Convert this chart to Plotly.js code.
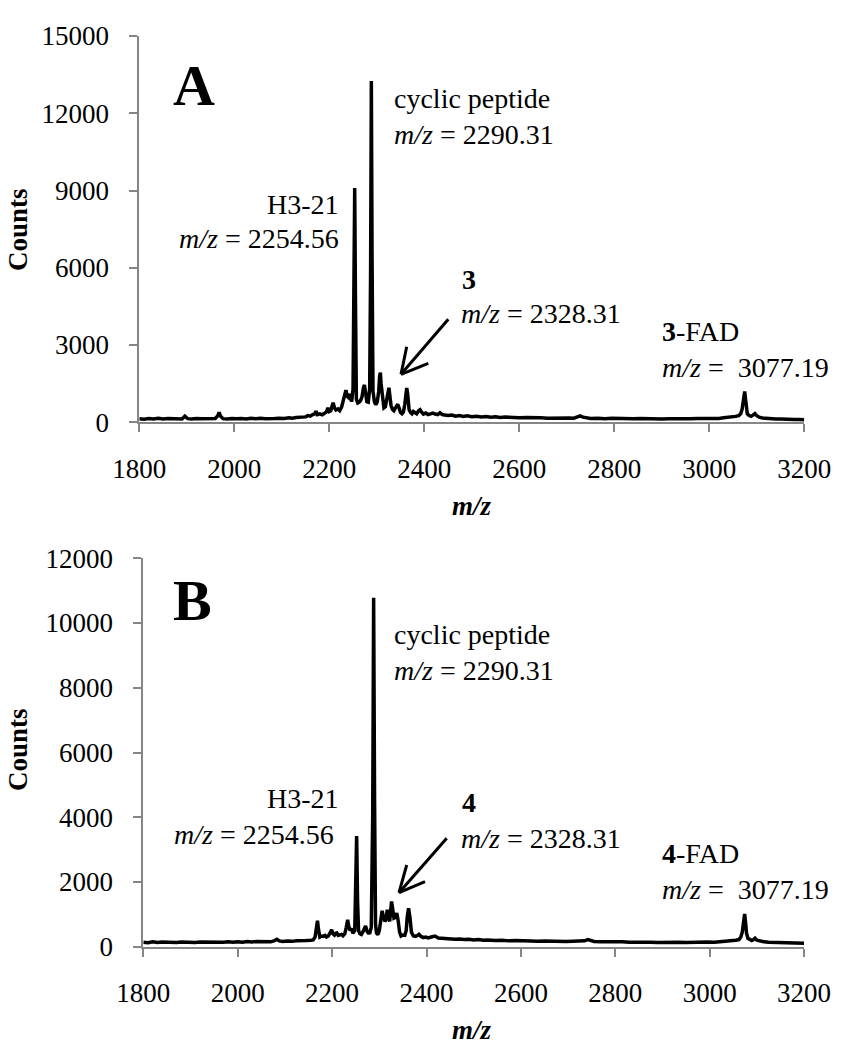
<!DOCTYPE html>
<html>
<head>
<meta charset="utf-8">
<script src="https://cdn.plot.ly/plotly-3.0.1.min.js"></script>
<style>html,body{margin:0;padding:0;background:#fff;}#chart{width:859px;height:1050px;}</style>
</head>
<body>
<div id="chart"></div>
<script>
// ---- Panel A spectrum ----
const mzA = [
1800,1810,1820,1830,1840,1850,1860,1870,1880,1890,
1896,1902,1910,1920,1930,1940,1950,1960,1965,1968,
1971,1976,1985,1995,2005,2015,2025,2035,2045,2055,
2065,2075,2085,2095,2105,2115,2122,2130,2138,2145,
2150,2155,2160,2165,2169,2172,2175,2180,2185,2190,
2194,2197,2200,2203,2206,2208,2211,2214,2218,2222,
2226,2230,2233,2235,2238,2241,2244,2247,2250,2252,
2253.5,2255,2257,2260,2263,2266,2269,2272,2274,2276,
2279,2282,2285,2287,2288.5,2290,2292,2295,2298,2301,
2304,2306,2307.5,2309,2312,2315,2318,2321,2324,2325.5,
2327,2330,2333,2336,2339,2342,2344,2347,2350,2353,
2356,2359,2361,2363,2365,2368,2371,2374,2377,2380,
2384,2388,2391,2394,2398,2403,2408,2413,2418,2423,
2428,2433,2438,2443,2450,2458,2466,2474,2482,2490,
2500,2510,2520,2530,2540,2550,2560,2570,2580,2590,
2600,2615,2630,2645,2660,2675,2690,2705,2715,2722,
2728,2734,2740,2750,2765,2780,2795,2810,2825,2840,
2855,2870,2885,2900,2915,2930,2945,2960,2975,2990,
3005,3020,3030,3040,3048,3055,3062,3066,3069,3071,
3073,3074.5,3076,3078,3080,3084,3088,3092,3096,3100,
3105,3112,3120,3130,3140,3150,3160,3170,3180,3190,
3200];
const countsA = [
140,120,150,130,160,125,145,135,150,130,
240,140,125,150,135,145,130,150,250,380,
240,140,125,150,135,150,130,155,140,160,
135,155,145,160,150,175,160,190,200,230,
210,260,240,300,320,430,300,330,290,350,
400,560,420,450,600,760,560,480,520,450,
600,900,1150,1250,1000,950,1100,800,1300,5000,
9100,5000,900,750,780,850,1000,1350,1450,1200,
800,780,1300,6000,13250,6500,1200,800,680,800,
1200,1800,1930,1500,900,560,600,900,1250,1340,
1100,650,500,450,550,680,700,550,380,330,
400,700,1200,1330,1100,500,380,330,420,380,
330,450,490,400,320,360,300,330,360,320,
300,370,300,280,260,280,240,260,230,250,
220,235,210,225,200,215,190,205,185,195,
175,185,165,175,160,170,155,170,160,210,
250,200,170,150,160,140,155,140,150,135,
145,130,145,130,140,130,145,135,150,140,
160,150,175,190,210,230,260,330,500,800,
1150,1200,950,550,330,260,230,280,340,260,
200,170,150,140,125,130,115,120,105,110,
100];

// ---- Panel B spectrum ----
const mzB = [
1800,1810,1820,1830,1840,1850,1860,1870,1880,1890,
1900,1910,1920,1930,1940,1950,1960,1970,1980,1990,
2000,2010,2020,2030,2040,2050,2060,2070,2078,2083,
2088,2095,2105,2115,2125,2135,2145,2155,2160,2164,
2167,2169,2171,2174,2178,2181,2185,2188,2192,2196,
2199,2202,2205,2208,2210,2213,2217,2220,2223,2227,
2230,2233,2235,2238,2241,2244,2248,2250,2252,2254,
2256,2259,2262,2265,2268,2271,2274,2277,2280,2283,
2286,2288,2290,2292,2294,2297,2300,2303,2306,2309,
2312,2314,2317,2320,2322,2324,2326,2328,2331,2334,
2337,2340,2343,2346,2350,2354,2357,2359,2362,2365,
2368,2372,2376,2380,2384,2388,2393,2398,2404,2410,
2418,2425,2432,2440,2450,2460,2470,2480,2490,2500,
2510,2520,2530,2545,2560,2575,2590,2605,2620,2635,
2650,2665,2680,2695,2710,2725,2735,2742,2748,2755,
2770,2785,2800,2815,2830,2845,2860,2875,2890,2905,
2920,2935,2950,2965,2980,2995,3010,3025,3035,3045,
3055,3062,3066,3069,3071,3072.5,3074,3076,3078,3081,
3085,3089,3093,3096,3100,3106,3115,3125,3135,3145,
3155,3165,3175,3185,3195,3200];
const countsB = [
140,125,150,130,145,135,150,130,145,135,
150,130,145,140,155,135,150,140,155,135,
150,140,160,145,160,150,165,150,190,230,
180,160,175,165,185,175,190,200,210,300,
600,800,550,300,330,320,350,300,330,420,
520,400,360,420,430,350,360,380,340,400,
600,830,650,500,560,420,500,1500,3420,1400,
500,400,380,450,550,640,480,420,430,600,
4000,10780,4500,700,420,370,500,800,1110,900,
780,850,1140,850,780,1100,1400,1200,880,900,
1040,800,450,330,360,350,500,900,1190,900,
450,340,320,340,380,320,280,300,270,300,
330,270,260,240,250,230,240,220,230,210,
220,200,210,190,200,180,190,175,185,170,
175,165,170,160,165,160,180,220,190,160,
150,155,140,150,135,145,130,140,130,140,
125,140,130,140,130,145,140,155,165,180,
200,220,300,450,700,1000,1010,750,420,260,
210,190,220,260,200,170,150,135,130,120,
125,115,120,110,115,105];

// ---- Ticks ----
const xTicks = [1800,2000,2200,2400,2600,2800,3000,3200];
const yTicksA = [0,3000,6000,9000,12000,15000];
const yTicksB = [0,2000,4000,6000,8000,10000,12000];

const W = 859, H = 1050;
const px = p => p / W;
const py = p => 1 - p / H;
const SERIF = 'Liberation Serif, Times New Roman, Times, serif';
const AX = '#868686';

const traces = [
  {x: mzA, y: countsA, xaxis: 'x', yaxis: 'y', type: 'scatter', mode: 'lines',
   line: {color: '#000', width: 3.5}, hoverinfo: 'x+y', showlegend: false},
  {x: mzB, y: countsB, xaxis: 'x2', yaxis: 'y2', type: 'scatter', mode: 'lines',
   line: {color: '#000', width: 3.5}, hoverinfo: 'x+y', showlegend: false}
];

function xax(domain, anchor) {
  return {domain: domain, anchor: anchor, range: [1800, 3200], tickvals: xTicks,
    ticktext: xTicks.map(String), showline: true, linecolor: AX, linewidth: 2,
    ticks: 'outside', ticklen: 8, tickwidth: 2, tickcolor: AX, showgrid: false,
    zeroline: false, ticklabelstandoff: 13, tickfont: {family: SERIF, size: 27, color: '#000'}};
}
function yax(domain, anchor, range, vals) {
  return {domain: domain, anchor: anchor, range: range, tickvals: vals,
    ticktext: vals.map(String), showline: true, linecolor: AX, linewidth: 2,
    ticks: 'outside', ticklen: 8, tickwidth: 2, tickcolor: AX, showgrid: false,
    zeroline: false, ticklabelstandoff: 15, tickfont: {family: SERIF, size: 27, color: '#000'}};
}

function ann(text, x, y, xa, size, extra) {
  return Object.assign({text: text, xref: 'paper', yref: 'paper', x: px(x), y: py(y),
    xanchor: xa, yanchor: 'middle', showarrow: false,
    font: {family: SERIF, size: size || 28, color: '#000'}}, extra || {});
}

const annotations = [
  // Panel A
  ann('<b>A</b>', 194, 85, 'center', 58),
  ann('cyclic peptide', 392, 98, 'left'),
  ann('<i>m/z</i> = 2290.31', 392, 134, 'left'),
  ann('H3-21', 341, 204, 'right'),
  ann('<i>m/z</i> = 2254.56', 341, 238, 'right'),
  ann('<b>3</b>', 460, 280, 'left'),
  ann('<i>m/z</i> = 2328.31', 459, 314, 'left'),
  ann('<b>3</b>-FAD', 660, 331, 'left'),
  ann('<i>m/z</i> =\u00a0 3077.19', 660, 367, 'left'),
  ann('<b>Counts</b>', 18, 230, 'center', 27, {textangle: -90}),
  ann('<b><i>m/z</i></b>', 472, 506, 'center', 27),
  // Panel B
  ann('<b>B</b>', 192, 600, 'center', 58),
  ann('cyclic peptide', 392, 634, 'left'),
  ann('<i>m/z</i> = 2290.31', 392, 670, 'left'),
  ann('H3-21', 341, 798, 'right'),
  ann('<i>m/z</i> = 2254.56', 336, 834, 'right'),
  ann('<b>4</b>', 460, 802, 'left'),
  ann('<i>m/z</i> = 2328.31', 459, 838, 'left'),
  ann('<b>4</b>-FAD', 660, 853, 'left'),
  ann('<i>m/z</i> =\u00a0 3077.19', 660, 889, 'left'),
  ann('<b>Counts</b>', 18, 750, 'center', 27, {textangle: -90}),
  ann('<b><i>m/z</i></b>', 472, 1030, 'center', 27)
];

function seg(x0, y0, x1, y1) {
  return {type: 'line', xref: 'paper', yref: 'paper', x0: px(x0), y0: py(y0), x1: px(x1), y1: py(y1),
    line: {color: '#000', width: 3}};
}
const shapes = [
  seg(448.3, 319.3, 401, 374.3), seg(401, 374.3, 406.7, 346.7), seg(401, 374.3, 428.3, 363.3),
  seg(446.7, 838.3, 399, 892.7), seg(399, 892.7, 406.7, 865), seg(399, 892.7, 425, 881.7)
];

const layout = {
  width: W, height: H, margin: {l: 0, r: 0, t: 0, b: 0},
  paper_bgcolor: '#fff', plot_bgcolor: '#fff', showlegend: false,
  font: {family: SERIF, size: 27, color: '#000'},
  xaxis: xax([139.3 / W, 804.3 / W], 'y'),
  yaxis: yax([1 - 422.3 / H, 1 - 36 / H], 'x', [0, 15000], yTicksA),
  xaxis2: xax([143.3 / W, 804.1 / W], 'y2'),
  yaxis2: yax([1 - 946.7 / H, 1 - 558.3 / H], 'x2', [0, 12000], yTicksB),
  annotations: annotations, shapes: shapes
};

Plotly.newPlot('chart', traces, layout, {displayModeBar: false, staticPlot: true});
</script>
</body>
</html>
